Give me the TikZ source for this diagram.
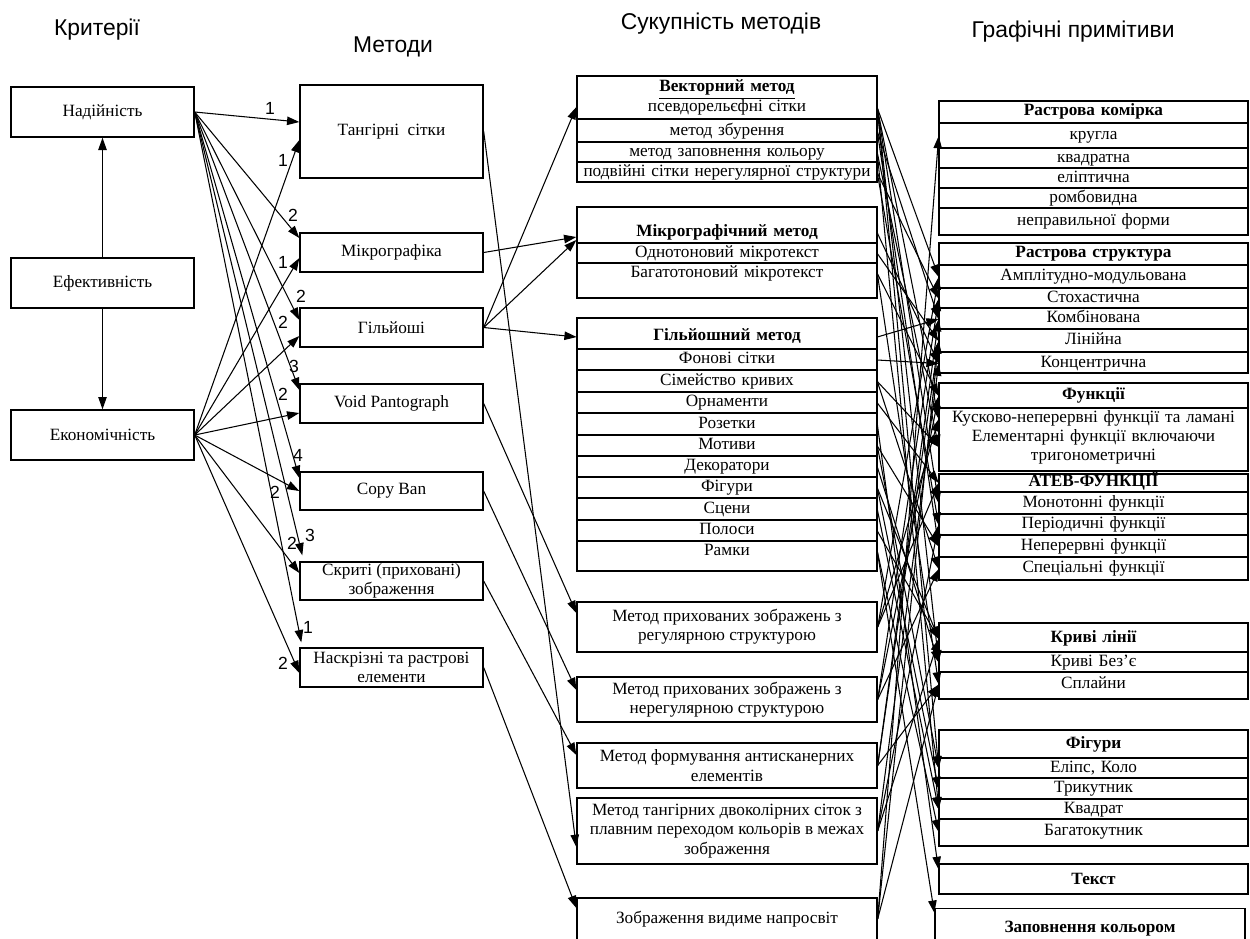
\documentclass[tikz,border=0pt]{standalone}
\usepackage{fontspec}
\setmainfont{Liberation Serif}
\newfontfamily\hdrfont{Liberation Sans}
\usetikzlibrary{arrows.meta}
\newcommand\cellfont{\fontsize{9.8}{11}\selectfont}

\tikzset{
  hdr/.style={font=\hdrfont\fontsize{13}{15}\selectfont},
  num/.style={font=\hdrfont\fontsize{10}{12}\selectfont, inner sep=0pt},
  box/.style={draw, line width=0.8pt, minimum width=3.66cm, align=center, inner ysep=0.5pt, font=\cellfont},
  mbox/.style={draw, line width=0.8pt, minimum width=6cm, align=center, inner ysep=0.5pt, font=\cellfont},
  rbox/.style={draw, line width=0.8pt, minimum width=6.18cm, align=center, inner ysep=0.5pt, font=\cellfont},
  mframe/.style={draw, line width=0.8pt, minimum width=6cm, inner sep=0pt},
  rframe/.style={draw, line width=0.8pt, minimum width=6.18cm, inner sep=0pt},
  cellm/.style={text width=6cm, inner xsep=0pt, inner ysep=0.5pt, align=center, font=\cellfont, text height=6.5pt, text depth=2.2pt},
  cellr/.style={text width=6.18cm, inner xsep=0pt, inner ysep=0.5pt, align=center, font=\cellfont, text height=6.5pt, text depth=2.2pt},
  cellr2/.style={text width=6.18cm, inner xsep=0pt, inner ysep=0.5pt, align=center, font=\cellfont},
  sep/.style={line width=0.8pt},
  link/.style={line width=0.6pt, -{Triangle[length=7pt,width=4.8pt]}},
}

\begin{document}
\begin{tikzpicture}[x=0.02cm, y=-0.02cm]
\useasboundingbox (0,0) rectangle (1250,938);

\node[hdr] (hk) at (97,30) {Критерії};
\node[hdr] (hm) at (393,47) {Методи};
\node[hdr] (hs) at (721,24) {Сукупність методів};
\node[hdr] (hg) at (1073,32) {Графічні примітиви};

\node[box, minimum height=1cm] (nad) at (102.5,112) {Надійність};
\node[box, minimum height=1cm] (efe) at (102.5,283) {Ефективність};
\node[box, minimum height=1cm] (eko) at (102.5,435) {Економічність};
\draw[link] (efe) -- (nad);
\draw[link] (efe) -- (eko);

\node[box, minimum height=1.86cm] (tang) at (391.5,131.5) {Тангірні\ \ сітки};
\node[box, minimum height=0.78cm] (mikro) at (391.5,252.5) {Мікрографіка};
\node[box, minimum height=0.78cm] (gil) at (391.5,327.5) {Гільйоші};
\node[box, minimum height=0.78cm] (void) at (391.5,403.5) {Void Pantograph};
\node[box, minimum height=0.76cm] (copy) at (391.5,491) {Copy Ban};
\node[box, minimum height=0.76cm] (skr) at (391.5,581) {Скриті (приховані)\\зображення};
\node[box, minimum height=0.78cm] (nask) at (391.5,667.5) {Наскрізні та растрові\\елементи};

\draw[link] (nad.east) -- ([yshift=0.19cm]tang.west);
\draw[link] (eko.east) -- ([yshift=-0.17cm]tang.west);
\draw[link] (nad.east) -- ([yshift=0.29cm]mikro.west);
\draw[link] (eko.east) -- ([yshift=-0.11cm]mikro.west);
\draw[link] (nad.east) -- ([yshift=0.15cm]gil.west);
\draw[link] (eko.east) -- ([yshift=-0.17cm]gil.west);
\draw[link] (nad.east) -- ([yshift=0.27cm]void.west);
\draw[link] (eko.east) -- ([yshift=-0.19cm]void.west);
\draw[link] (nad.east) -- ([yshift=0.26cm]copy.west);
\draw[link] (eko.east) -- (copy.west);
\draw[link] (nad.east) -- ([xshift=0.06cm,yshift=0.12cm]skr.north west);
\draw[link] (eko.east) -- ([yshift=0.16cm]skr.west);
\draw[link] (nad.east) -- ([xshift=0.04cm,yshift=0.1cm]nask.north west);
\draw[link] (eko.east) -- ([yshift=-0.11cm]nask.west);

\node[num] (n1) at (270,108) {1};
\node[num] (n2) at (283,160) {1};
\node[num] (n3) at (293,215) {2};
\node[num] (n4) at (283,262) {1};
\node[num] (n5) at (301,296) {2};
\node[num] (n6) at (283,322) {2};
\node[num] (n7) at (294,366) {3};
\node[num] (n8) at (283,394) {2};
\node[num] (n9) at (298,455) {4};
\node[num] (n10) at (275,492) {2};
\node[num] (n11) at (292,543) {2};
\node[num] (n12) at (310,535) {3};
\node[num] (n13) at (308,627) {1};
\node[num] (n14) at (283,663) {2};

\node[mframe, minimum height=2.12cm] (vec) at (727,129) {};
\node[cellm] (vt) at (727,88) {\textbf{\underline{Векторний метод}}};
\node[cellm] (v0) at (727,108) {псевдорельєфні сітки};
\node[cellm] (v1) at (727,131.5) {метод збурення};
\node[cellm] (v2) at (727,153) {метод заповнення кольору};
\node[cellm] (v3) at (727,173) {подвійні сітки нерегулярної структури};
\draw[sep] (577,119) -- (877,119) (577,142) -- (877,142) (577,162) -- (877,162);

\node[mframe, minimum height=1.82cm] (mic) at (727,252.5) {};
\node[cellm] (mt) at (727,233) {\textbf{Мікрографічний метод}};
\node[cellm] (m1) at (727,253.5) {Однотоновий мікротекст};
\node[cellm] (m2) at (727,273.5) {Багатотоновий мікротекст};
\draw[sep] (577,243) -- (877,243) (577,263) -- (877,263);

\node[mframe, minimum height=5.06cm] (gsum) at (727,444.5) {};
\node[cellm] (gt) at (727,337) {\textbf{Гільйошний метод}};
\node[cellm] (g1) at (727,360) {Фонові сітки};
\node[cellm] (g2) at (727,381.5) {Сімейство кривих};
\node[cellm] (g3) at (727,403) {Орнаменти};
\node[cellm] (g4) at (727,424.5) {Розетки};
\node[cellm] (g5) at (727,446) {Мотиви};
\node[cellm] (g6) at (727,467) {Декоратори};
\node[cellm] (g7) at (727,488) {Фігури};
\node[cellm] (g8) at (727,509.5) {Сцени};
\node[cellm] (g9) at (727,531) {Полоси};
\node[cellm] (g10) at (727,551.5) {Рамки};
\draw[sep] (577,349) -- (877,349) (577,370) -- (877,370) (577,392) -- (877,392)
  (577,413) -- (877,413) (577,435) -- (877,435) (577,456) -- (877,456)
  (577,477) -- (877,477) (577,498) -- (877,498) (577,520) -- (877,520)
  (577,541) -- (877,541);

\node[mbox, minimum height=1cm] (rg) at (727,627) {Метод прихованих зображень з\\регулярною структурою};
\node[mbox, minimum height=0.9cm] (nr) at (727,699.5) {Метод прихованих зображень з\\нерегулярною структурою};
\node[mbox, minimum height=0.9cm] (as) at (727,765.5) {Метод формування антисканерних\\елементів};
\node[mbox, minimum height=1.32cm] (td) at (727,831) {Метод тангірних двоколірних сіток з\\плавним переходом кольорів в межах\\зображення};
\node[mbox, minimum height=0.84cm] (vn) at (727,919) {Зображення видиме напросвіт};

\draw[link] (tang.east) -- ([yshift=-0.32cm]td.west);
\draw[link] (mikro.east) -- ([yshift=0.31cm]mic.west);
\draw[link] (gil.east) -- ([yshift=0.44cm]vec.west);
\draw[link] (gil.east) -- ([yshift=0.25cm]mic.west);
\draw[link] (gil.east) -- (gt.west);
\draw[link] (void.east) -- ([yshift=0.28cm]rg.west);
\draw[link] (copy.east) -- ([yshift=0.19cm]nr.west);
\draw[link] (skr.east) -- ([yshift=0.21cm]as.west);
\draw[link] (nask.east) -- ([yshift=0.22cm]vn.west);

\node[rframe, minimum height=2.68cm] (rk) at (1093.5,168) {};
\node[cellr] (rkt) at (1093.5,112) {\textbf{Растрова комірка}};
\node[cellr] (rk1) at (1093.5,136) {кругла};
\node[cellr] (rk2) at (1093.5,158.5) {квадратна};
\node[cellr] (rk3) at (1093.5,178.5) {еліптична};
\node[cellr] (rk4) at (1093.5,198.5) {ромбовидна};
\node[cellr] (rk5) at (1093.5,222) {неправильної форми};
\draw[sep] (939,123) -- (1248,123) (939,148) -- (1248,148) (939,168) -- (1248,168)
  (939,188) -- (1248,188) (939,208) -- (1248,208);

\node[rframe, minimum height=2.6cm] (rs) at (1093.5,308) {};
\node[cellr] (rst) at (1093.5,254) {\textbf{Растрова структура}};
\node[cellr] (rs1) at (1093.5,277) {Амплітудно-модульована};
\node[cellr] (rs2) at (1093.5,298.5) {Стохастична};
\node[cellr] (rs3) at (1093.5,319) {Комбінована};
\node[cellr] (rs4) at (1093.5,341) {Лінійна};
\node[cellr] (rs5) at (1093.5,363.5) {Концентрична};
\draw[sep] (939,265) -- (1248,265) (939,288) -- (1248,288) (939,308) -- (1248,308)
  (939,329) -- (1248,329) (939,352) -- (1248,352);

\node[rframe, minimum height=1.76cm] (fn) at (1093.5,427) {};
\node[cellr] (fnt) at (1093.5,396) {\textbf{Функції}};
\node[cellr] (fn1) at (1093.5,419) {Кусково-неперервні функції та ламані};
\node[cellr2] (fn2) at (1093.5,447) {Елементарні функції включаючи\\тригонометричні};
\draw[sep] (939,408) -- (1248,408);

\node[rframe, minimum height=2.12cm] (atf) at (1093.5,527) {};
\node[cellr] (att) at (1093.5,483) {\textbf{АТЕВ-ФУНКЦІЇ}};
\node[cellr] (at1) at (1093.5,503.5) {Монотонні функції};
\node[cellr] (at2) at (1093.5,525) {Періодичні функції};
\node[cellr] (at3) at (1093.5,546.5) {Неперервні функції};
\node[cellr] (at4) at (1093.5,569) {Спеціальні функції};
\draw[sep] (939,492) -- (1248,492) (939,514) -- (1248,514) (939,535) -- (1248,535)
  (939,557) -- (1248,557);

\node[rframe, minimum height=1.52cm] (kl) at (1093.5,661) {};
\node[cellr] (klt) at (1093.5,639) {\textbf{Криві лінії}};
\node[cellr] (kl1) at (1093.5,662.5) {Криві Без’є};
\node[cellr] (kl2) at (1093.5,684.5) {Сплайни};
\draw[sep] (939,652) -- (1248,652) (939,672) -- (1248,672);

\node[rframe, minimum height=2.32cm] (fg) at (1093.5,788) {};
\node[cellr] (fgt) at (1093.5,745) {\textbf{Фігури}};
\node[cellr] (fg1) at (1093.5,768.5) {Еліпс, Коло};
\node[cellr] (fg2) at (1093.5,789) {Трикутник};
\node[cellr] (fg3) at (1093.5,809.5) {Квадрат};
\node[cellr] (fg4) at (1093.5,832) {Багатокутник};
\draw[sep] (939,758) -- (1248,758) (939,778) -- (1248,778) (939,799) -- (1248,799)
  (939,819) -- (1248,819);

\node[rbox, minimum height=0.6cm] (tx) at (1093.5,879) {\textbf{Текст}};
\node[draw, line width=0.8pt, minimum width=6.2cm, minimum height=0.82cm, font=\cellfont] (zk) at (1090,929) {\textbf{Заповнення кольором}};

\draw[link] (v0.east) -- (rs1.west);
\draw[link] (v0.east) -- (fn1.west);
\draw[link] (v0.east) -- (at1.west);
\draw[link] (v0.east) -- (kl1.west);
\draw[link] (v0.east) -- (fg1.west);
\draw[link] (v1.east) -- (rs3.west);
\draw[link] (v1.east) -- (at3.west);
\draw[link] (v2.east) -- (fn2.west);
\draw[link] (v2.east) -- (fg3.west);
\draw[link] (v3.east) -- (rs2.west);
\draw[link] (v3.east) -- (at2.west);
\draw[link] (mt.east) -- (rs5.west);
\draw[link] (m1.east) -- (rs4.west);
\draw[link] (m2.east) -- (fnt.west);
\draw[link] (m2.east) -- (kl2.west);
\draw[link] (gt.east) -- (rs3.west);
\draw[link] (g1.east) -- (rs5.west);
\draw[link] (g2.east) -- (fn2.west);
\draw[link] (g2.east) -- (at4.west);
\draw[link] (g3.east) -- (att.west);
\draw[link] (g4.east) -- ([yshift=0.2cm]tx.west);
\draw[link] (g5.east) -- (at3.west);
\draw[link] (g5.east) -- (fg1.west);
\draw[link] (g6.east) -- (kl1.west);
\draw[link] (g7.east) -- (fg2.west);
\draw[link] (g7.east) -- (klt.west);
\draw[link] (g8.east) -- (fg3.west);
\draw[link] (g9.east) -- (klt.west);
\draw[link] (g10.east) -- ([yshift=-0.1cm]zk.north west);
\draw[link] (g10.east) -- (fg4.west);
\draw[link] (rg.east) -- (rs1.west);
\draw[link] (rg.east) -- (fn1.west);
\draw[link] (rg.east) -- (att.west);
\draw[link] (nr.east) -- (rs2.west);
\draw[link] (nr.east) -- (fnt.west);
\draw[link] (nr.east) -- (at4.west);
\draw[link] (as.east) -- (rs3.west);
\draw[link] (as.east) -- (rs4.west);
\draw[link] (as.east) -- (kl2.west);
\draw[link] (td.east) -- (klt.west);
\draw[link] (td.east) -- (rs5.west);
\draw[link] (td.east) -- (at2.west);
\draw[link] (vn.east) -- (rk1.west);
\draw[link] (vn.east) -- (rs4.west);
\draw[link] (vn.east) -- (kl2.west);
\end{tikzpicture}
\end{document}
